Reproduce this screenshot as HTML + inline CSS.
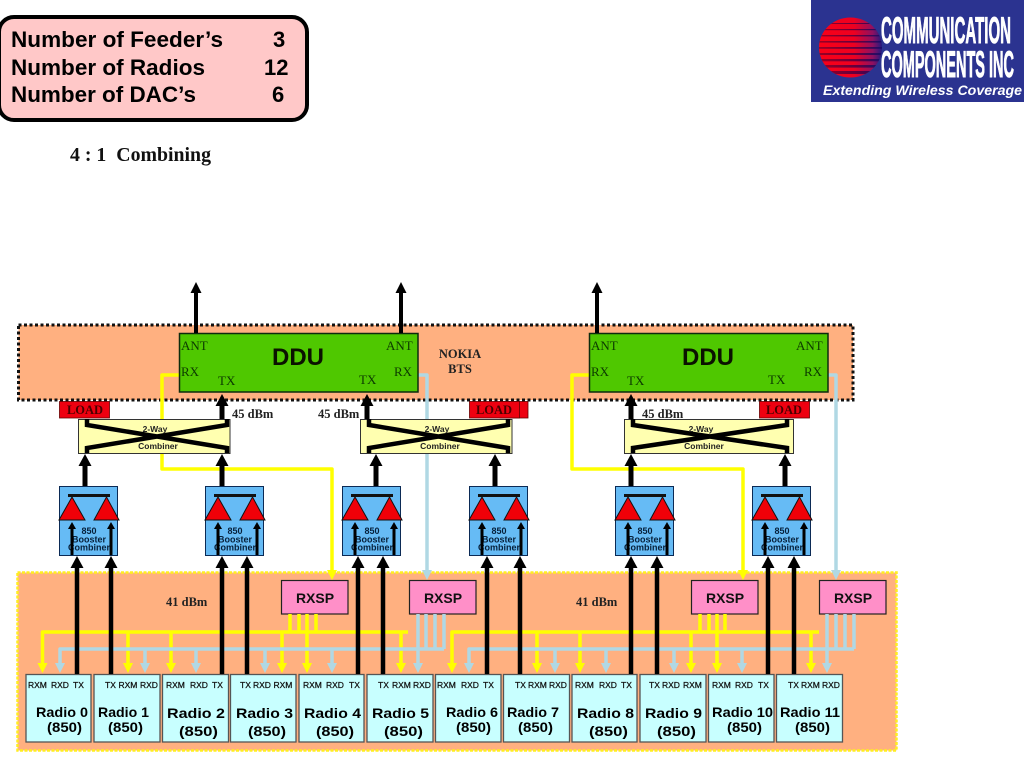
<!DOCTYPE html>
<html><head><meta charset="utf-8"><title>4:1 Combining</title>
<style>
html,body{margin:0;padding:0;background:#fff;width:1024px;height:768px;overflow:hidden}
svg{display:block}
.sa{font-family:"Liberation Sans",Arial,sans-serif}
.se{font-family:"Liberation Serif","Times New Roman",serif}
.port{font:400 8.5px "Liberation Sans",Arial,sans-serif;fill:#111;stroke:#111;stroke-width:.25}
.rad{font:700 14px "Liberation Sans",Arial,sans-serif;fill:#000}
.bt{font:700 9px "Liberation Sans",Arial,sans-serif;fill:#06203a;text-anchor:middle}
.cb{font:700 8.5px "Liberation Sans",Arial,sans-serif;fill:#222;text-anchor:middle}
.ld{font:700 12.5px "Liberation Serif",serif;fill:#4a0000;text-anchor:middle}
.db{font:700 12.5px "Liberation Serif",serif;fill:#222}
.dd{font:400 13px "Liberation Serif",serif;fill:#0c3a00}
.ddu{font:700 24px "Liberation Sans",Arial,sans-serif;fill:#0b1200;text-anchor:middle}
.rx{font:700 14px "Liberation Sans",Arial,sans-serif;fill:#111;text-anchor:middle}
</style></head><body>
<svg width="1024" height="768" viewBox="0 0 1024 768" xmlns="http://www.w3.org/2000/svg">
<defs>
<path id="h" d="M0 0l-6.500 12h13z"/>
<path id="a" d="M0 0l-5.500 11h11z"/>
<path id="d" d="M0 0l-5-10h10z"/>
<path id="i" d="M0 0l-4 7h8z"/>
<g id="boost">
<rect x=".5" y=".5" width="58" height="69" fill="#66bbf5" stroke="#0b2a55" stroke-width="1"/>
<rect x="9" y="8" width="42" height="3" fill="#111"/>
<polygon points="0,34 26,34 13,11" fill="#f00008" stroke="#111" stroke-width="1"/>
<polygon points="35,34 60,34 47.500,11" fill="#f00008" stroke="#111" stroke-width="1"/>
</g>
<clipPath id="ball"><ellipse cx="850.500" cy="47.500" rx="31.500" ry="30"/></clipPath>
<linearGradient id="bg" x1="0" x2="1" y1="0" y2="0"><stop offset="0" stop-color="#f80018"/><stop offset=".55" stop-color="#ee0020"/><stop offset=".85" stop-color="#901060"/><stop offset="1" stop-color="#201a80"/></linearGradient>
<linearGradient id="sg" x1="0" x2="1" y1="0" y2="0"><stop offset="0" stop-color="#a00020"/><stop offset=".6" stop-color="#600040"/><stop offset="1" stop-color="#101070"/></linearGradient>
</defs>

<!-- top summary -->
<rect x="-1" y="17" width="308" height="103" rx="15" fill="#ffc8c8" stroke="#000" stroke-width="4"/>
<g class="sa" font-weight="700" font-size="22" fill="#000">
<text x="11" y="47" textLength="212" lengthAdjust="spacingAndGlyphs">Number of Feeder’s</text>
<text x="11" y="75" textLength="194" lengthAdjust="spacingAndGlyphs">Number of Radios</text>
<text x="11" y="102" textLength="185" lengthAdjust="spacingAndGlyphs">Number of DAC’s</text>
<text x="273" y="47">3</text><text x="264" y="75">12</text><text x="272" y="102">6</text>
</g>
<text class="se" x="70" y="161" font-size="20.500" font-weight="700" fill="#111" textLength="141" lengthAdjust="spacingAndGlyphs" xml:space="preserve">4 : 1  Combining</text>

<!-- logo -->
<rect x="811" y="0" width="213" height="102" fill="#2b3390"/>
<ellipse cx="850.500" cy="47.500" rx="31.500" ry="30" fill="url(#bg)"/>
<g clip-path="url(#ball)">
<rect x="815" y="23" width="70" height="1" fill="url(#sg)"/>
<rect x="815" y="29" width="70" height="1.200" fill="url(#sg)"/>
<rect x="815" y="35" width="70" height="1.400" fill="url(#sg)"/>
<rect x="815" y="41" width="70" height="1.600" fill="url(#sg)"/>
<rect x="815" y="47" width="70" height="1.800" fill="url(#sg)"/>
<rect x="815" y="53" width="70" height="2" fill="url(#sg)"/>
<rect x="815" y="59" width="70" height="2.300" fill="url(#sg)"/>
<rect x="815" y="65" width="70" height="2.600" fill="url(#sg)"/>
<rect x="815" y="71" width="70" height="3" fill="url(#sg)"/>
</g>
<g class="sa" font-weight="700" fill="#fff" stroke="#fff" stroke-width="1" font-size="37">
<text x="881" y="43" textLength="130" lengthAdjust="spacingAndGlyphs">COMMUNICATION</text>
<text x="881" y="77" textLength="133" lengthAdjust="spacingAndGlyphs">COMPONENTS INC</text>
</g>
<text class="sa" x="823" y="95" font-size="13.500" font-weight="700" font-style="italic" fill="#fff" textLength="199" lengthAdjust="spacingAndGlyphs">Extending Wireless Coverage</text>

<!-- panels -->
<rect x="18.500" y="325" width="834.500" height="75" fill="#ffb080" stroke="#111" stroke-width="3" stroke-dasharray="3 2.500"/>
<rect x="17.500" y="572.500" width="879" height="178" fill="#ffb080" stroke="#ffee20" stroke-width="2.500" stroke-dasharray="3 1.500"/>

<!-- long yellow and blue (behind combiners) -->
<g fill="none" stroke="#ffff00" stroke-width="3.500" stroke-linejoin="round">
<path d="M179 375H162V469H332V570"/>
<path d="M589 375H572V469H743V570"/>
</g>
<g fill="none" stroke="#b0d8e4" stroke-width="3.500" stroke-linejoin="round">
<path d="M418 375H427V570"/>
<path d="M828 375H836V570"/>
</g>

<!-- combiners -->
<g fill="#ffffb0" stroke="#333" stroke-width="1">
<rect x="78.500" y="419.500" width="151.500" height="34"/>
<rect x="360.500" y="419.500" width="151.500" height="34"/>
<rect x="624.500" y="419.500" width="169" height="34"/>
</g>
<g fill="none" stroke="#000" stroke-width="4.500">
<path d="M87 419V425L227 448V453M227 419V425L87 448V453"/>
<path d="M369 419V425L508 448V453M508 419V425L369 448V453"/>
<path d="M633 419V425L787 448V453M787 419V425L633 448V453"/>
</g>
<g class="cb">
<text x="155" y="432">2-Way</text><text x="158" y="449">Combiner</text>
<text x="437" y="432">2-Way</text><text x="440" y="449">Combiner</text>
<text x="701" y="432">2-Way</text><text x="704" y="449">Combiner</text>
</g>

<!-- DDUs -->
<g fill="#4fc800" stroke="#0d2b0d" stroke-width="1.500">
<rect x="179.500" y="333.500" width="238.500" height="58.500"/>
<rect x="589.500" y="333.500" width="238.500" height="58.500"/>
</g>
<text class="ddu" x="298" y="365">DDU</text>
<text class="ddu" x="708" y="365">DDU</text>
<g class="dd">
<text x="181" y="350">ANT</text><text x="181" y="376">RX</text><text x="218" y="385">TX</text>
<text x="359" y="384">TX</text><text x="386" y="350">ANT</text><text x="394" y="376">RX</text>
<text x="591" y="350">ANT</text><text x="591" y="376">RX</text><text x="627" y="385">TX</text>
<text x="768" y="384">TX</text><text x="796" y="350">ANT</text><text x="804" y="376">RX</text>
</g>
<g class="se" font-size="12.500" font-weight="700" fill="#222" text-anchor="middle">
<text x="460" y="358">NOKIA</text><text x="460" y="373">BTS</text>
</g>

<!-- load -->
<g fill="#ee0010" stroke="#600" stroke-width=".8">
<rect x="59.500" y="401.500" width="50" height="16.500"/>
<rect x="500" y="401.500" width="28" height="16.500"/>
<rect x="469.500" y="401.500" width="50" height="16.500"/>
<rect x="759.500" y="401.500" width="50" height="16.500"/>
</g>
<g class="ld">
<text x="85" y="414">LOAD</text><text x="494" y="414">LOAD</text><text x="784" y="414">LOAD</text>
</g>
<g class="db">
<text x="232" y="418">45 dBm</text><text x="318" y="418">45 dBm</text><text x="642" y="418">45 dBm</text>
<text x="166" y="606">41 dBm</text><text x="576" y="606">41 dBm</text>
</g>

<!-- boosters -->
<use href="#boost" x="59" y="486"/><use href="#boost" x="205" y="486"/><use href="#boost" x="342" y="486"/>
<use href="#boost" x="469" y="486"/><use href="#boost" x="615" y="486"/><use href="#boost" x="752" y="486"/>
<g class="bt">
<text x="89" y="534">850</text><text x="89" y="542.500">Booster</text><text x="89" y="550.500">Combiner</text>
<text x="235" y="534">850</text><text x="235" y="542.500">Booster</text><text x="235" y="550.500">Combiner</text>
<text x="372" y="534">850</text><text x="372" y="542.500">Booster</text><text x="372" y="550.500">Combiner</text>
<text x="499" y="534">850</text><text x="499" y="542.500">Booster</text><text x="499" y="550.500">Combiner</text>
<text x="645" y="534">850</text><text x="645" y="542.500">Booster</text><text x="645" y="550.500">Combiner</text>
<text x="782" y="534">850</text><text x="782" y="542.500">Booster</text><text x="782" y="550.500">Combiner</text>
</g>
<g stroke="#000" stroke-width="3" fill="none">
<path d="M72 555V528M111 555V528M218 555V528M257 555V528M355 555V528M394 555V528M482 555V528M521 555V528M628 555V528M667 555V528M765 555V528M804 555V528"/>
</g>
<g fill="#000">
<use href="#i" x="72" y="522"/><use href="#i" x="111" y="522"/><use href="#i" x="218" y="522"/><use href="#i" x="257" y="522"/><use href="#i" x="355" y="522"/><use href="#i" x="394" y="522"/><use href="#i" x="482" y="522"/><use href="#i" x="521" y="522"/><use href="#i" x="628" y="522"/><use href="#i" x="667" y="522"/><use href="#i" x="765" y="522"/><use href="#i" x="804" y="522"/>
</g>

<!-- RXSP -->
<g fill="#ff8fc8" stroke="#222" stroke-width="1.200">
<rect x="281.500" y="580.500" width="66.500" height="33.500"/>
<rect x="409.500" y="580.500" width="66.500" height="33.500"/>
<rect x="691.500" y="580.500" width="66.500" height="33.500"/>
<rect x="819.500" y="580.500" width="66.500" height="33.500"/>
</g>
<g class="rx">
<text x="315" y="603">RXSP</text><text x="443" y="603">RXSP</text><text x="725" y="603">RXSP</text><text x="853" y="603">RXSP</text>
</g>

<!-- radios -->
<g fill="#c8ffff" stroke="#555" stroke-width="1.300">
<rect x="26" y="674.500" width="65" height="67.500"/><rect x="94" y="674.500" width="66" height="67.500"/>
<rect x="162.500" y="674.500" width="66" height="67.500"/><rect x="230.500" y="674.500" width="65.500" height="67.500"/>
<rect x="299" y="674.500" width="65" height="67.500"/><rect x="367" y="674.500" width="66" height="67.500"/>
<rect x="435.500" y="674.500" width="65.500" height="67.500"/><rect x="503.500" y="674.500" width="66" height="67.500"/>
<rect x="572" y="674.500" width="65" height="67.500"/><rect x="640" y="674.500" width="66" height="67.500"/>
<rect x="708.500" y="674.500" width="65.500" height="67.500"/><rect x="776.500" y="674.500" width="66" height="67.500"/>
</g>
<g class="port">
<text x="28" y="688">RXM</text><text x="51" y="688">RXD</text><text x="73" y="688">TX</text>
<text x="105" y="688">TX</text><text x="118.500" y="688">RXM</text><text x="140" y="688">RXD</text>
<text x="166" y="688">RXM</text><text x="190" y="688">RXD</text><text x="212" y="688">TX</text>
<text x="240" y="688">TX</text><text x="253" y="688">RXD</text><text x="273.500" y="688">RXM</text>
<text x="303" y="688">RXM</text><text x="326" y="688">RXD</text><text x="349" y="688">TX</text>
<text x="378" y="688">TX</text><text x="392" y="688">RXM</text><text x="413" y="688">RXD</text>
<text x="437" y="688">RXM</text><text x="461" y="688">RXD</text><text x="483" y="688">TX</text>
<text x="515" y="688">TX</text><text x="528" y="688">RXM</text><text x="549" y="688">RXD</text>
<text x="575" y="688">RXM</text><text x="599" y="688">RXD</text><text x="621" y="688">TX</text>
<text x="649" y="688">TX</text><text x="662" y="688">RXD</text><text x="683" y="688">RXM</text>
<text x="712" y="688">RXM</text><text x="735" y="688">RXD</text><text x="758" y="688">TX</text>
<text x="788" y="688">TX</text><text x="801" y="688">RXM</text><text x="822" y="688">RXD</text>
</g>
<g class="rad">
<text x="36" y="717" textLength="52" lengthAdjust="spacingAndGlyphs">Radio 0</text><text x="47" y="732" textLength="35" lengthAdjust="spacingAndGlyphs">(850)</text>
<text x="98" y="717" textLength="51" lengthAdjust="spacingAndGlyphs">Radio 1</text><text x="108" y="732" textLength="35" lengthAdjust="spacingAndGlyphs">(850)</text>
<text x="167" y="718" textLength="58" lengthAdjust="spacingAndGlyphs">Radio 2</text><text x="179" y="736" textLength="39" lengthAdjust="spacingAndGlyphs">(850)</text>
<text x="236" y="718" textLength="57" lengthAdjust="spacingAndGlyphs">Radio 3</text><text x="248" y="736" textLength="38" lengthAdjust="spacingAndGlyphs">(850)</text>
<text x="304" y="718" textLength="57" lengthAdjust="spacingAndGlyphs">Radio 4</text><text x="316" y="736" textLength="38" lengthAdjust="spacingAndGlyphs">(850)</text>
<text x="372" y="718" textLength="57" lengthAdjust="spacingAndGlyphs">Radio 5</text><text x="384" y="736" textLength="39" lengthAdjust="spacingAndGlyphs">(850)</text>
<text x="446" y="717" textLength="52" lengthAdjust="spacingAndGlyphs">Radio 6</text><text x="456" y="732" textLength="35" lengthAdjust="spacingAndGlyphs">(850)</text>
<text x="507" y="717" textLength="52" lengthAdjust="spacingAndGlyphs">Radio 7</text><text x="518" y="732" textLength="35" lengthAdjust="spacingAndGlyphs">(850)</text>
<text x="577" y="718" textLength="57" lengthAdjust="spacingAndGlyphs">Radio 8</text><text x="589" y="736" textLength="39" lengthAdjust="spacingAndGlyphs">(850)</text>
<text x="645" y="718" textLength="57" lengthAdjust="spacingAndGlyphs">Radio 9</text><text x="657" y="736" textLength="39" lengthAdjust="spacingAndGlyphs">(850)</text>
<text x="712" y="717" textLength="61" lengthAdjust="spacingAndGlyphs">Radio 10</text><text x="727" y="732" textLength="35" lengthAdjust="spacingAndGlyphs">(850)</text>
<text x="780" y="717" textLength="60" lengthAdjust="spacingAndGlyphs">Radio 11</text><text x="795" y="732" textLength="35" lengthAdjust="spacingAndGlyphs">(850)</text>
</g>

<!-- yellow bus -->
<g fill="none" stroke="#ffff00" stroke-width="3.500" stroke-linejoin="round">
<path d="M42.500 664V632H408M128 632V664M171 632V664M282 632V664M307 614V664M401 632V664M290 614V632M299 614V632M316 614V632"/>
<path d="M452 664V632H819M537 632V664M580 632V664M691 632V664M717 614V664M811 632V664M700 614V632M709 614V632M725 614V632"/>
</g>
<g fill="#ffff00">
<use href="#d" x="42.500" y="673"/><use href="#d" x="128" y="673"/><use href="#d" x="171" y="673"/><use href="#d" x="282" y="673"/><use href="#d" x="307" y="673"/><use href="#d" x="401" y="673"/>
<use href="#d" x="452" y="673"/><use href="#d" x="537" y="673"/><use href="#d" x="580" y="673"/><use href="#d" x="691" y="673"/><use href="#d" x="717" y="673"/><use href="#d" x="811" y="673"/>
<use href="#d" x="332" y="580"/><use href="#d" x="743" y="580"/>
</g>
<!-- blue bus -->
<g fill="none" stroke="#b0d8e4" stroke-width="3.500" stroke-linejoin="round">
<path d="M60 664V649H444M145 649V664M196 649V664M265 649V664M332 649V664M418 614V664M426 614V649M435 614V649M444 614V649"/>
<path d="M469 664V649H854M555 649V664M606 649V664M674 649V664M742 649V664M827 614V664M836 614V649M845 614V649M854 614V649"/>
</g>
<g fill="#b0d8e4">
<use href="#d" x="60" y="673"/><use href="#d" x="145" y="673"/><use href="#d" x="196" y="673"/><use href="#d" x="265" y="673"/><use href="#d" x="332" y="673"/><use href="#d" x="418" y="673"/>
<use href="#d" x="469" y="673"/><use href="#d" x="555" y="673"/><use href="#d" x="606" y="673"/><use href="#d" x="674" y="673"/><use href="#d" x="742" y="673"/><use href="#d" x="827" y="673"/>
<use href="#d" x="427" y="580"/><use href="#d" x="836" y="580"/>
</g>

<!-- black feeders -->
<g fill="none" stroke="#000">
<path stroke-width="4" d="M196 293V333M401 293V333M597 293V333"/>
<path stroke-width="5" d="M222 405V419M367 405V419M631 405V419"/>
<path stroke-width="5" d="M85 465V486M222 465V486M376 465V486M495 465V486M631 465V486M785 465V486"/>
<path stroke-width="4.500" d="M77 567V674M111 567V674M222 567V674M247 567V674M358 567V674M383 567V674M487 567V674M520 567V674M631 567V674M657 567V674M768 567V674M794 567V674"/>
</g>
<g fill="#000">
<use href="#a" x="196" y="282"/><use href="#a" x="401" y="282"/><use href="#a" x="597" y="282"/>
<use href="#h" x="222" y="394"/><use href="#h" x="367" y="394"/><use href="#h" x="631" y="394"/>
<use href="#h" x="85" y="454"/><use href="#h" x="222" y="454"/><use href="#h" x="376" y="454"/><use href="#h" x="495" y="454"/><use href="#h" x="631" y="454"/><use href="#h" x="785" y="454"/>
<use href="#h" x="77" y="556"/><use href="#h" x="111" y="556"/><use href="#h" x="222" y="556"/><use href="#h" x="247" y="556"/><use href="#h" x="358" y="556"/><use href="#h" x="383" y="556"/><use href="#h" x="487" y="556"/><use href="#h" x="520" y="556"/><use href="#h" x="631" y="556"/><use href="#h" x="657" y="556"/><use href="#h" x="768" y="556"/><use href="#h" x="794" y="556"/>
</g>
</svg>
</body></html>
